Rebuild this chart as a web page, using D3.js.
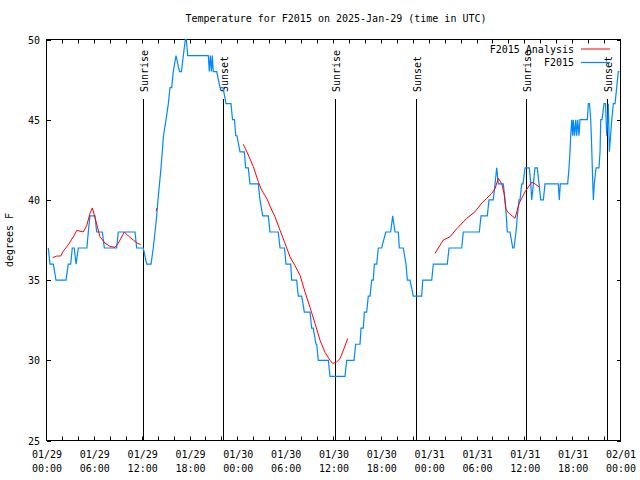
<!DOCTYPE html>
<html><head><meta charset="utf-8">
<script src="https://cdn.jsdelivr.net/npm/d3@7"></script>
<style>body{margin:0;background:#fff}text{font-family:"DejaVu Sans Mono",monospace;font-size:10px;fill:#000}</style>
</head><body><svg id="c" width="640" height="480"></svg>
<script>
// hours since 2025-01-29 00:00 UTC, temperature (F)
const obsHours = [0.16,0.38,0.79,1.13,2.38,2.67,2.97,3.17,3.42,3.64,3.93,5.0,5.18,5.39,6.02,6.23,6.94,7.19,8.74,8.94,11.04,11.25,12.08,12.5,13.05,13.33,13.55,13.76,13.92,14.11,14.3,14.46,14.61,14.93,15.22,15.43,15.64,15.84,16.18,16.62,16.87,17.1,17.35,17.47,17.65,20.23,20.36,20.48,20.63,20.73,20.86,21.29,21.7,22.08,22.45,23.08,23.27,23.52,23.67,23.83,24.21,24.75,24.92,25.25,25.46,26.5,26.72,27.06,27.76,27.97,29.01,29.23,29.79,29.98,30.57,30.69,31.32,31.52,31.95,32.28,32.99,33.2,33.4,33.74,33.83,34.03,35.29,35.5,37.38,37.59,38.51,38.72,39.26,39.39,39.68,39.8,40.1,40.3,40.52,40.73,40.93,41.06,41.36,41.56,41.98,42.49,43.11,43.36,43.65,44.07,44.19,44.69,45.03,45.2,45.53,45.95,47.0,47.13,48.26,48.46,50.21,50.43,52.02,52.22,54.23,54.44,55.23,55.44,55.98,56.2,56.41,56.61,57.24,57.45,57.61,57.74,58.08,58.42,58.58,58.83,59.0,59.21,59.33,59.55,59.71,59.96,60.5,60.68,60.8,61.01,61.21,61.5,61.72,61.93,62.26,62.47,64.14,64.26,64.39,65.31,65.48,65.6,65.69,65.82,65.94,66.02,66.17,66.32,66.44,66.57,66.73,66.86,67.78,67.9,68.05,68.2,68.28,68.4,68.53,68.65,68.87,69.24,69.37,69.46,69.62,69.87,70.06,70.21,70.33,70.41,70.54,70.69,70.84,71.04,71.25,71.46,71.66,71.8];
const obsTemps = [37,36,36,35,35,36,36,37,37,36,37,37,38,39,39,38,38,37,37,38,38,37,37,36,36,37,38,39,40,41,42,43,44,45,46,47,47,48,49,48,48,49,50,50,49,49,48,49,48,49,48,48,47,47,46,46,45,45,44,44,43,43,42,42,41,41,40,39,39,38,38,37,37,36,36,35,35,34,34,33,33,32,32,31,31,30,30,29,29,30,30,31,31,32,32,33,33,34,34,35,35,36,36,37,37,38,38,39,38,38,37,37,36,35,35,34,34,35,35,36,36,37,37,38,38,39,39,40,40,41,42,41,41,40,39,38,38,37,37,38,39,40,40,41,41,42,42,41,40,41,42,42,41,40,40,41,41,40,41,41,42,43,44,45,44,45,44,45,44,45,44,45,45,46,46,45,44,42,40,41,42,42,43,45,45,46,46,44,45,46,43,44,45,46,46,47,48,48];

const anaHours1 = [0.72,1.22,1.72,2.04,2.67,3.3,3.73,4.55,4.98,5.39,5.68,5.93,6.23,6.65,7.28,7.9,8.53,8.94,9.7,10.2,10.83,11.25,11.75];
const anaTemps1 = [36.4,36.5,36.5,36.8,37.2,37.7,38.1,38.0,38.4,39.16,39.5,39.06,38.5,37.7,37.3,37.1,37.04,37.3,38.0,37.75,37.5,37.33,37.2];
const anaHours2 = [13.7,13.8];
const anaTemps2 = [39.3,39.5];
const anaHours3 = [24.62,25.25,25.88,26.5,26.93,27.56,28.19,28.6,29.23,29.85,30.48,31.11,31.74,32.36,32.99,33.62,34.24,34.87,35.5,35.84,36.34,36.75,37.26,37.72];
const anaTemps3 = [43.47,42.8,42.07,41.14,40.6,40.1,39.37,38.95,38.1,37.3,36.45,35.9,35.3,34.27,33.3,32.3,31.26,30.5,30.0,29.8,29.9,30.1,30.74,31.36];
const anaHours4 = [48.67,49.08,49.71,50.55,51.39,52.65,53.69,54.53,55.16,55.78,56.2,56.61,57.04,57.33,57.58,57.87,58.7,59.24,59.55,59.96,60.8,61.21,61.75];
const anaTemps4 = [36.67,37,37.5,37.7,38.2,38.85,39.26,39.8,40.1,40.4,40.7,41.35,41.0,40.4,39.4,39.2,38.85,39.8,40.1,40.5,41.1,41.0,40.8];

const sunLabels = ["Sunrise","Sunset","Sunrise","Sunset","Sunrise","Sunset"];
const sunHours = [12.08,22.11,36.16,46.25,60.12,70.21];
const yTicks = [25,30,35,40,45,50];
const title = "Temperature for F2015 on 2025-Jan-29 (time in UTC)";
const yLabel = "degrees F";
const legendNames = ["F2015 Analysis","F2015"];
const colors = ["#ff0000","#0088ff"];

const base = Date.UTC(2025,0,29);
const toDate = h => new Date(base + h*3600e3);
const svg = d3.select("#c");
const L=47,R=621,T=39.5,B=440.5;
const x = d3.scaleUtc().domain([toDate(0), toDate(72)]).range([L,R]);
const y = d3.scaleLinear().domain([25,50]).range([B,T]);

svg.append("text").attr("x",336).attr("y",22).attr("text-anchor","middle").text(title);
svg.append("text").attr("transform","translate(13,240) rotate(-90)").attr("text-anchor","middle").text(yLabel);

// frame
svg.append("rect").attr("x",L-0.5).attr("y",T).attr("width",R-L).attr("height",B-T).attr("fill","none").attr("stroke","#000");

// y ticks
const yt = svg.append("g");
yTicks.forEach(v=>{
  const yy = Math.round(y(v))+0.5;
  yt.append("line").attr("x1",L).attr("x2",L+4).attr("y1",yy).attr("y2",yy).attr("stroke","#000");
  yt.append("line").attr("x1",R-4).attr("x2",R).attr("y1",yy).attr("y2",yy).attr("stroke","#000");
  yt.append("text").attr("x",L-7).attr("y",yy).attr("dy","0.35em").attr("text-anchor","end").text(v);
});
// x ticks
const xt = svg.append("g");
const minor = d3.utcHour.every(2).range(toDate(0), toDate(72.01));
minor.forEach(d=>{
  const xx = Math.round(x(d))-0.5;
  xt.append("line").attr("x1",xx).attr("x2",xx).attr("y1",B).attr("y2",B-4).attr("stroke","#000");
  xt.append("line").attr("x1",xx).attr("x2",xx).attr("y1",T).attr("y2",T+4).attr("stroke","#000");
});
const fmtD = d3.utcFormat("%m/%d"), fmtT = d3.utcFormat("%H:%M");
d3.utcHour.every(6).range(toDate(0), toDate(72.01)).forEach(d=>{
  const t = xt.append("text").attr("x",x(d)).attr("y",458).attr("text-anchor","middle");
  t.append("tspan").attr("x",x(d)).text(fmtD(d));
  t.append("tspan").attr("x",x(d)).attr("dy",14).text(fmtT(d));
});

// sun lines
sunHours.forEach((h,i)=>{
  const xx = Math.round(x(toDate(h)))+0.5;
  svg.append("line").attr("x1",xx).attr("x2",xx).attr("y1",99).attr("y2",B).attr("stroke","#000");
  svg.append("text").attr("transform",`translate(${xx+4},92) rotate(-90)`).text(sunLabels[i]);
});

const line = d3.line().x(d=>x(toDate(d[0]))).y(d=>y(d[1]));
const zip = (a,b)=>a.map((v,i)=>[v,b[i]]);
// observations
svg.append("path").datum(zip(obsHours,obsTemps)).attr("d",line).attr("fill","none").attr("stroke",colors[1]).attr("stroke-width",1.2);
// analysis
[[anaHours1,anaTemps1],[anaHours2,anaTemps2],[anaHours3,anaTemps3],[anaHours4,anaTemps4]].forEach(([h,t])=>{
  svg.append("path").datum(zip(h,t)).attr("d",line).attr("fill","none").attr("stroke",colors[0]).attr("stroke-width",1);
});

// legend
legendNames.forEach((n,i)=>{
  const yy = 49 + i*13.5;
  svg.append("text").attr("x",574).attr("y",yy).attr("dy","0.35em").attr("text-anchor","end").text(n);
  svg.append("line").attr("x1",581).attr("x2",610).attr("y1",yy).attr("y2",yy).attr("stroke",colors[i]).attr("stroke-width",i?1.2:1);
});
</script></body></html>
